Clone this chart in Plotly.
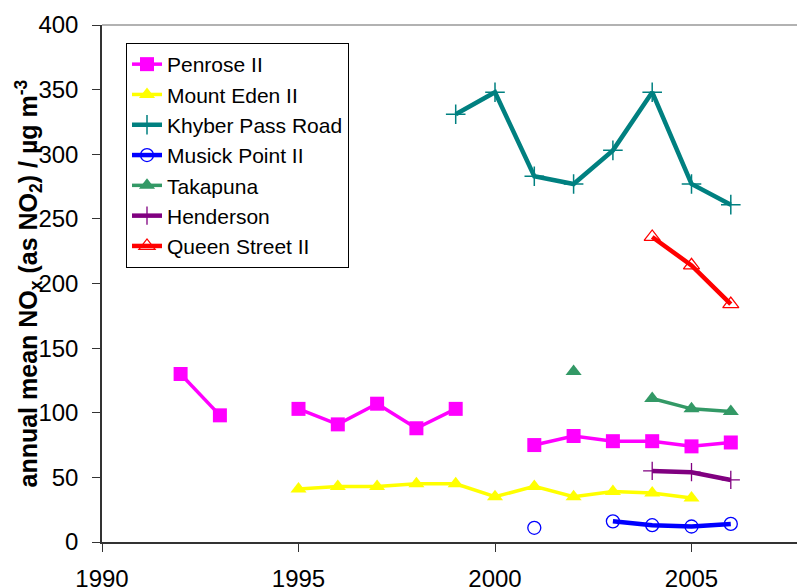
import plotly.graph_objects as go

years = [1992, 1993, 1994, 1995, 1996, 1997, 1998, 1999, 2000,
         2001, 2002, 2003, 2004, 2005, 2006]

penrose = [130, 98, None, 103, 91, 107, 88, 103, None,
           75, 82, 78, 78, 74, 77]
mount_eden = [None, None, None, 41, 43, 43, 45, 45, 35,
              43, 35, 39, 38, 34, None]
khyber = [None, None, None, None, None, None, None, 331, 348,
          283, 277, 303, 348, 277, 261]
musick = [None, None, None, None, None, None, None, None, None,
          11, None, 16, 13, 12, 14]
takapuna = [None, None, None, None, None, None, None, None, None,
            None, 132, None, 111, 103, 101]
henderson = [None, None, None, None, None, None, None, None, None,
             None, None, None, 55, 54, 48]
queen = [None, None, None, None, None, None, None, None, None,
         None, None, None, 236, 214, 184]

x_ticks = [1990, 1995, 2000, 2005]
y_ticks = [0, 50, 100, 150, 200, 250, 300, 350, 400]

series = [
    ("Penrose II", penrose, "#FF00FF", 3.5, dict(symbol="square", size=14, color="#FF00FF")),
    ("Mount Eden II", mount_eden, "#FFFF00", 3.5, dict(symbol="triangle-up", size=14, color="#FFFF00")),
    ("Khyber Pass Road", khyber, "#008080", 4.5, dict(symbol="cross-thin", size=14, color="#008080",
                                                       line=dict(color="#008080", width=1.5))),
    ("Musick Point II", musick, "#0000FF", 4.5, dict(symbol="circle-open", size=13, color="#0000FF",
                                                      line=dict(color="#0000FF", width=1.3))),
    ("Takapuna", takapuna, "#339966", 3.5, dict(symbol="triangle-up", size=14, color="#339966")),
    ("Henderson", henderson, "#800080", 4.5, dict(symbol="cross-thin", size=13, color="#800080",
                                                   line=dict(color="#800080", width=1.3))),
    ("Queen Street II", queen, "#FF0000", 4.5, dict(symbol="triangle-up-open", size=14, color="#FF0000",
                                                     line=dict(color="#FF0000", width=1.3))),
]

fig = go.Figure()
for name, vals, col, lw, mk in series:
    fig.add_trace(go.Scatter(
        x=years, y=vals, name=name, mode="lines+markers",
        line=dict(color=col, width=lw), marker=mk,
        connectgaps=False,
    ))

left, bottom, top = 102, 45, 25
plot_w = 797 - left
plot_h = 587 - bottom - top
px_per_year = 39.3

fig.update_layout(
    width=797, height=587,
    margin=dict(l=left, r=0, t=top, b=bottom, pad=0, autoexpand=False),
    paper_bgcolor="white", plot_bgcolor="white",
    font=dict(family="Liberation Sans, Arial, sans-serif", color="black"),
    showlegend=True,
    legend=dict(
        x=(126 - left) / plot_w, y=(587 - bottom - 43) / plot_h,
        xanchor="left", yanchor="top",
        bgcolor="white", bordercolor="black", borderwidth=1,
        font=dict(size=21, color="black"),
        itemwidth=30,
    ),
    xaxis=dict(
        range=[1990, 1990 + plot_w / px_per_year],
        tickvals=x_ticks, ticktext=[str(v) for v in x_ticks],
        ticks="outside", ticklen=8, tickcolor="#333333", tickwidth=1,
        tickfont=dict(size=24), ticklabelstandoff=6, automargin=False,
        showline=True, linecolor="#333333", linewidth=1.5,
        showgrid=False, zeroline=False,
    ),
    yaxis=dict(
        range=[0, 400],
        tickvals=y_ticks,
        ticks="outside", ticklen=8, tickcolor="#333333", tickwidth=1,
        tickfont=dict(size=24), ticklabelstandoff=9, automargin=False,
        showline=True, linecolor="#333333", linewidth=1.5,
        showgrid=False, zeroline=False,
    ),
)

# y-axis title placed by hand so it can sit over the tick-label column
fig.add_annotation(
    text="<b>annual mean NO<sub>x</sub> (as NO<sub>2</sub>) / µg m<sup>-3</sup></b>",
    xref="paper", yref="paper",
    x=(28 - left) / plot_w, y=(587 - bottom - 283.5) / plot_h,
    xanchor="center", yanchor="middle", textangle=-90,
    showarrow=False, font=dict(size=25, color="black"),
)

# grey frame line along the top of the plotting area
fig.add_shape(type="line", xref="paper", yref="paper", x0=0, x1=1, y0=1, y1=1,
              line=dict(color="#999999", width=1.5))

fig.write_html("out.html")
